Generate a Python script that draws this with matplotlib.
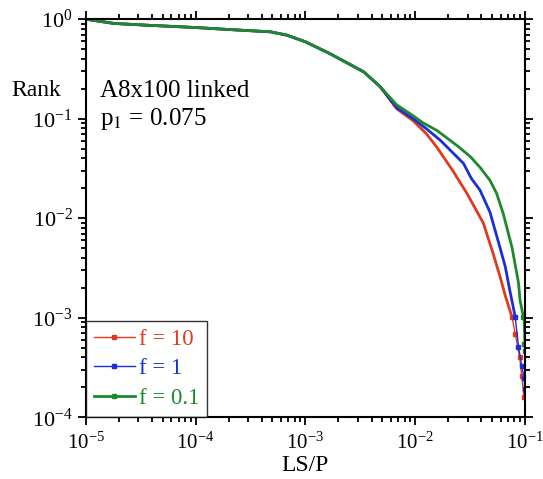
import matplotlib
matplotlib.use('Agg')
import matplotlib.pyplot as plt
import numpy as np

plt.rcParams['font.family'] = ['Liberation Serif', 'DejaVu Serif']
plt.rcParams['mathtext.fontset'] = 'stix'

# common part of the three curves (LS/P, rank)
x_common = [1.0e-5, 1.8e-5, 3.5e-5, 1.0e-4, 2.0e-4, 4.8e-4, 6.8e-4, 1.0e-3,
            1.66e-3, 3.4e-3, 4.8e-3]
y_common = [1.0, 0.906, 0.871, 0.824, 0.787, 0.746, 0.690, 0.592,
            0.452, 0.295, 0.209]

# f = 10
x_red = [6.76e-3, 9.55e-3, 1.26e-2, 1.58e-2, 2.19e-2, 2.95e-2, 3.39e-2, 4.17e-2,
         5.13e-2, 5.89e-2, 6.61e-2, 7.59e-2, 8.13e-2, 8.91e-2, 9.33e-2, 9.77e-2]
y_red = [0.126, 0.0955, 0.0708, 0.0513, 0.0302, 0.0178, 0.0135, 8.91e-3,
         4.37e-3, 2.63e-3, 1.66e-3, 1.02e-3, 6.92e-4, 4.07e-4, 2.57e-4, 1.58e-4]

# f = 1
x_blue = [6.76e-3, 9.55e-3, 1.26e-2, 1.70e-2, 2.75e-2, 3.24e-2, 3.89e-2, 4.79e-2,
          5.89e-2, 6.61e-2, 7.24e-2, 8.13e-2, 8.71e-2, 9.33e-2, 9.84e-2, 9.89e-2]
y_blue = [0.129, 0.100, 0.0794, 0.0603, 0.0355, 0.0251, 0.0191, 0.0115,
          5.13e-3, 3.24e-3, 1.91e-3, 1.02e-3, 5.13e-4, 3.24e-4, 2.45e-4, 1.91e-4]

# f = 0.1
x_green = [6.76e-3, 9.55e-3, 1.17e-2, 1.58e-2, 2.40e-2, 3.16e-2, 3.89e-2, 4.79e-2,
           5.50e-2, 6.31e-2, 7.59e-2, 8.71e-2, 8.99e-2, 9.64e-2, 9.84e-2, 9.93e-2]
y_green = [0.138, 0.107, 0.0912, 0.0759, 0.0537, 0.0417, 0.0324, 0.0240,
           0.0178, 0.0112, 5.13e-3, 2.24e-3, 1.51e-3, 1.02e-3, 5.50e-4, 4.68e-4]

labels = ['f = 10', 'f = 1', 'f = 0.1']
colors = ['#e2381e', '#1a2fd6', '#1c8a2c']

fig = plt.figure(figsize=(5.43, 4.79), dpi=100)
ax = fig.add_axes([0.158, 0.129, 0.809, 0.831])

series = [(x_red, y_red), (x_blue, y_blue), (x_green, y_green)]
handles = []
for (xs, ys), lab, col in zip(series, labels, colors):
    xx = np.array(x_common + xs)
    yy = np.array(y_common + ys)
    # thick line for the dense part, thin line with dots in the sparse tail
    dense = yy >= 1.0e-3
    ax.plot(xx[dense], yy[dense], color=col, lw=2.0, solid_capstyle='round')
    tail = yy <= 1.1e-3
    ax.plot(xx[tail], yy[tail], color=col, lw=1.0, marker='s', ms=2.2,
            mec=col)
    h, = ax.plot([], [], color=col, lw=1.0 if col != colors[2] else 2.0,
                 marker='s', ms=2.2, label=lab)
    handles.append(h)

ax.set_xscale('log')
ax.set_yscale('log')
ax.set_xlim(1e-5, 1e-1)
ax.set_ylim(1e-4, 1e0)

for s in ax.spines.values():
    s.set_linewidth(1.5)
ax.tick_params(which='both', direction='out', top=True, right=True,
               labelsize=16, width=1.3)
ax.tick_params(axis='x', labelsize=15, pad=5)
ax.tick_params(which='major', length=6)
ax.tick_params(which='minor', length=3.5)

ax.set_xlabel('LS/P', fontsize=17, labelpad=1)
ax.text(-0.112, 0.822, 'Rank', transform=ax.transAxes, fontsize=17,
        ha='center', va='center')

ax.text(0.032, 0.804, 'A8x100 linked', transform=ax.transAxes, fontsize=18,
        ha='left', va='baseline')
ax.text(0.032, 0.734, r'p$_1$ = 0.075', transform=ax.transAxes, fontsize=18,
        ha='left', va='baseline')

leg = ax.legend(handles=handles, loc='lower left', fontsize=16.5, frameon=True,
                fancybox=False, edgecolor='black', handlelength=1.8,
                handletextpad=0.15, borderaxespad=0, labelspacing=0.38,
                borderpad=0.35)
leg.get_frame().set_linewidth(1.0)
for t, col in zip(leg.get_texts(), colors):
    t.set_color(col)

fig.savefig('out.png', dpi=100)
